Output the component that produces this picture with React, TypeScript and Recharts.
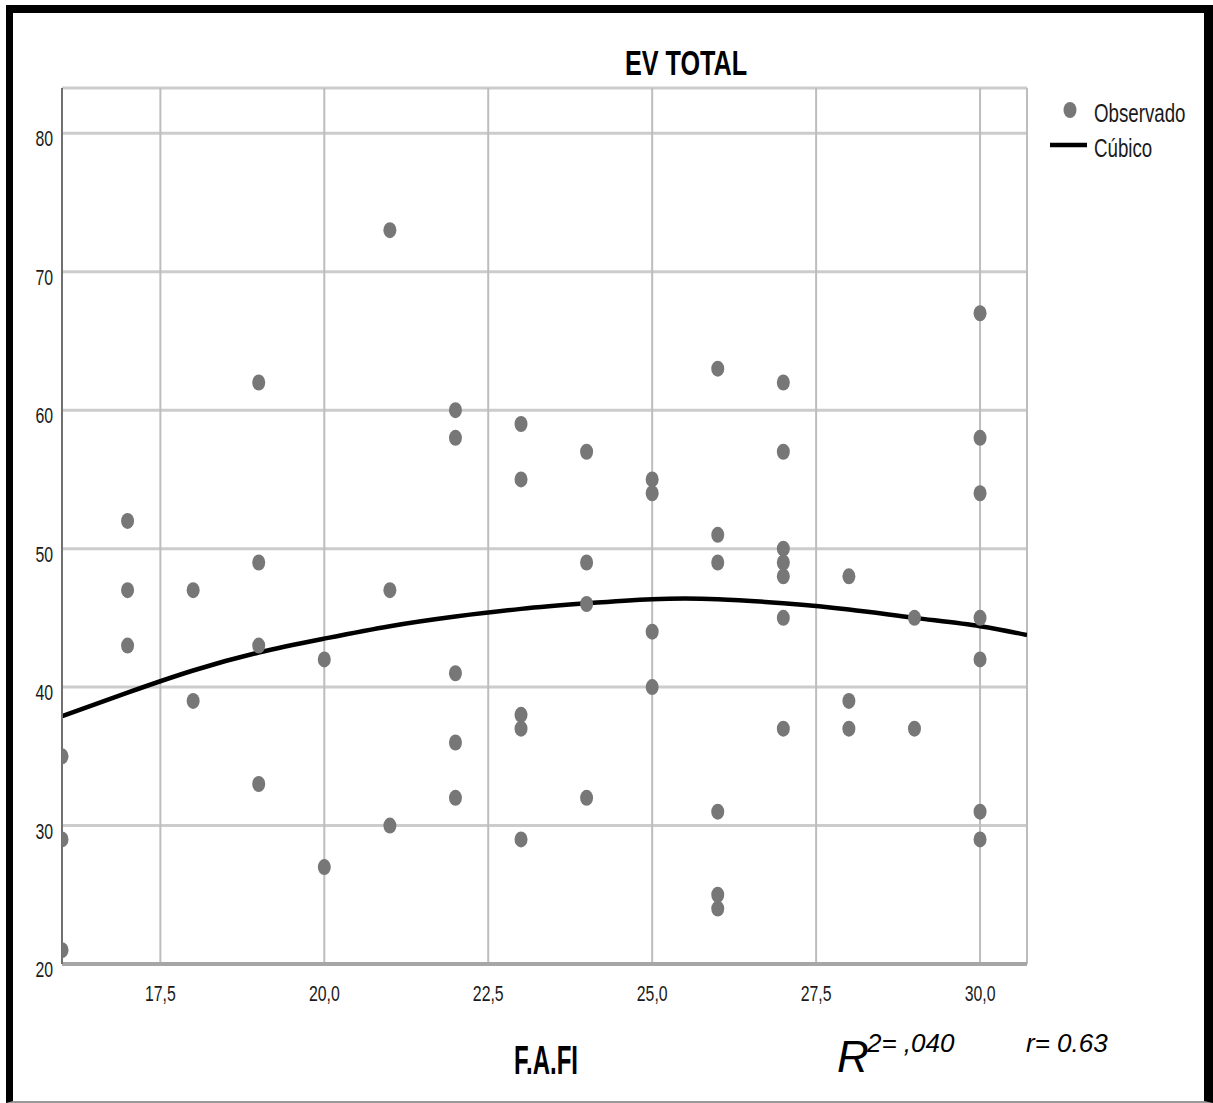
import { ComposedChart, Scatter, Line, XAxis, YAxis, CartesianGrid } from "recharts";

// observed points (F.A.FI vs EV TOTAL)
const observedX = [
  16, 16, 16, 17, 17, 17, 18, 18, 19, 19, 19, 19, 20, 20, 21, 21, 21,
  22, 22, 22, 22, 22, 23, 23, 23, 23, 23, 24, 24, 24, 24, 25, 25, 25, 25,
  26, 26, 26, 26, 26, 26, 27, 27, 27, 27, 27, 27, 27, 28, 28, 28, 29, 29,
  30, 30, 30, 30, 30, 30, 30,
];
const observedY = [
  35, 29, 21, 52, 47, 43, 47, 39, 62, 49, 43, 33, 42, 27, 73, 47, 30,
  60, 58, 41, 36, 32, 59, 55, 38, 37, 29, 57, 49, 46, 32, 55, 54, 44, 40,
  63, 51, 49, 31, 25, 24, 62, 57, 50, 49, 48, 45, 37, 48, 39, 37, 45, 37,
  67, 58, 54, 45, 42, 31, 29,
];

// cubic fit
const fitX = [16, 17, 18, 19, 20, 21, 22, 23, 24, 25, 26, 27, 28, 29, 30, 30.716];
const fitY = [37.9, 39.6, 41.2, 42.5, 43.5, 44.4, 45.1, 45.65, 46.05, 46.35, 46.35, 46.05, 45.6, 45.0, 44.4, 43.75];

const xTicks = [17.5, 20, 22.5, 25, 27.5, 30];
const yTicks = [20, 30, 40, 50, 60, 70, 80];

const observed = observedX.map((x, i) => ({ x, y: observedY[i] }));
const fit = fitX.map((x, i) => ({ x, y: fitY[i] }));

const FONT = "'Liberation Sans', Arial, sans-serif";

function XTick(props: any) {
  const { x, y, payload } = props;
  return (
    <text
      transform={`translate(${x},${y + 37}) scale(0.72,1)`}
      textAnchor="middle"
      fontFamily={FONT}
      fontSize={22}
      fill="#1a1a1a"
    >
      {Number(payload.value).toFixed(1).replace(".", ",")}
    </text>
  );
}

function YTick(props: any) {
  const { x, y, payload } = props;
  return (
    <text
      transform={`translate(${x - 9},${y + 13}) scale(0.72,1)`}
      textAnchor="end"
      fontFamily={FONT}
      fontSize={22}
      fill="#1a1a1a"
    >
      {payload.value}
    </text>
  );
}

function Dot(props: any) {
  const { cx, cy } = props;
  if (cx == null || cy == null) return null;
  return <ellipse cx={cx} cy={cy} rx={6.5} ry={8} fill="#777777" />;
}

export default function App() {
  return (
    <div style={{ position: "absolute", left: 0, top: 0, width: 1213, height: 1103, background: "#fff" }}>
      {/* frame */}
      <div
        style={{
          position: "absolute",
          left: 6,
          top: 5,
          width: 1207,
          height: 1098,
          boxSizing: "border-box",
          borderTop: "8px solid #000",
          borderLeft: "7px solid #000",
          borderRight: "9px solid #000",
          borderBottom: "2px solid #999",
        }}
      />

      <div style={{ position: "absolute", left: 0, top: 0 }}>
        <ComposedChart width={1213} height={1103} margin={{ top: 88, right: 186, bottom: 99, left: 0 }}>
          <CartesianGrid horizontal={true} vertical={false} stroke="#cccccc" strokeWidth={3} />
          <CartesianGrid horizontal={false} vertical={true} stroke="#bdbdbd" strokeWidth={2} />
          <XAxis
            type="number"
            dataKey="x"
            domain={[16, 30.716]}
            ticks={xTicks}
            allowDataOverflow
            height={40}
            tickLine={false}
            tickSize={0}
            tickMargin={0}
            tick={<XTick />}
            axisLine={{ stroke: "#a6a6a6", strokeWidth: 4 }}
          />
          <YAxis
            type="number"
            dataKey="y"
            domain={[20, 83.27]}
            ticks={yTicks}
            allowDataOverflow
            width={62}
            tickLine={false}
            tickSize={0}
            tickMargin={0}
            tick={<YTick />}
            axisLine={{ stroke: "#707070", strokeWidth: 2 }}
          />
          <Scatter data={observed} dataKey="y" shape={<Dot />} isAnimationActive={false} />
          <Line
            data={fit}
            dataKey="y"
            type="natural"
            stroke="#000"
            strokeWidth={4.5}
            dot={false}
            activeDot={false}
            isAnimationActive={false}
          />
        </ComposedChart>
      </div>

      {/* title, axis label, legend, annotation */}
      <svg width={1213} height={1103} style={{ position: "absolute", left: 0, top: 0, pointerEvents: "none" }}>
        <text transform="translate(686,75) scale(0.7,1)" textAnchor="middle" fontFamily={FONT} fontWeight="bold" fontSize={36} fill="#000">
          EV TOTAL
        </text>
        <text transform="translate(546,1074) scale(0.6,1)" textAnchor="middle" fontFamily={FONT} fontWeight="bold" fontSize={40} fill="#000">
          F.A.FI
        </text>

        <ellipse cx={1070} cy={110} rx={6.5} ry={8} fill="#777777" />
        <text transform="translate(1094,122) scale(0.72,1)" fontFamily={FONT} fontSize={26} fill="#1a1a1a">
          Observado
        </text>
        <line x1={1050} y1={145} x2={1087} y2={145} stroke="#000" strokeWidth={4.5} />
        <text transform="translate(1094,157) scale(0.72,1)" fontFamily={FONT} fontSize={26} fill="#1a1a1a">
          Cúbico
        </text>

        <text x={837} y={1072} fontFamily={FONT} fontStyle="italic" fontSize={44} fill="#000">
          R
        </text>
        <text x={867} y={1052} fontFamily={FONT} fontStyle="italic" fontSize={26} fill="#000">
          2= ,040
        </text>
        <text x={1026} y={1052} fontFamily={FONT} fontStyle="italic" fontSize={26} fill="#000">
          r= 0.63
        </text>
      </svg>
    </div>
  );
}
